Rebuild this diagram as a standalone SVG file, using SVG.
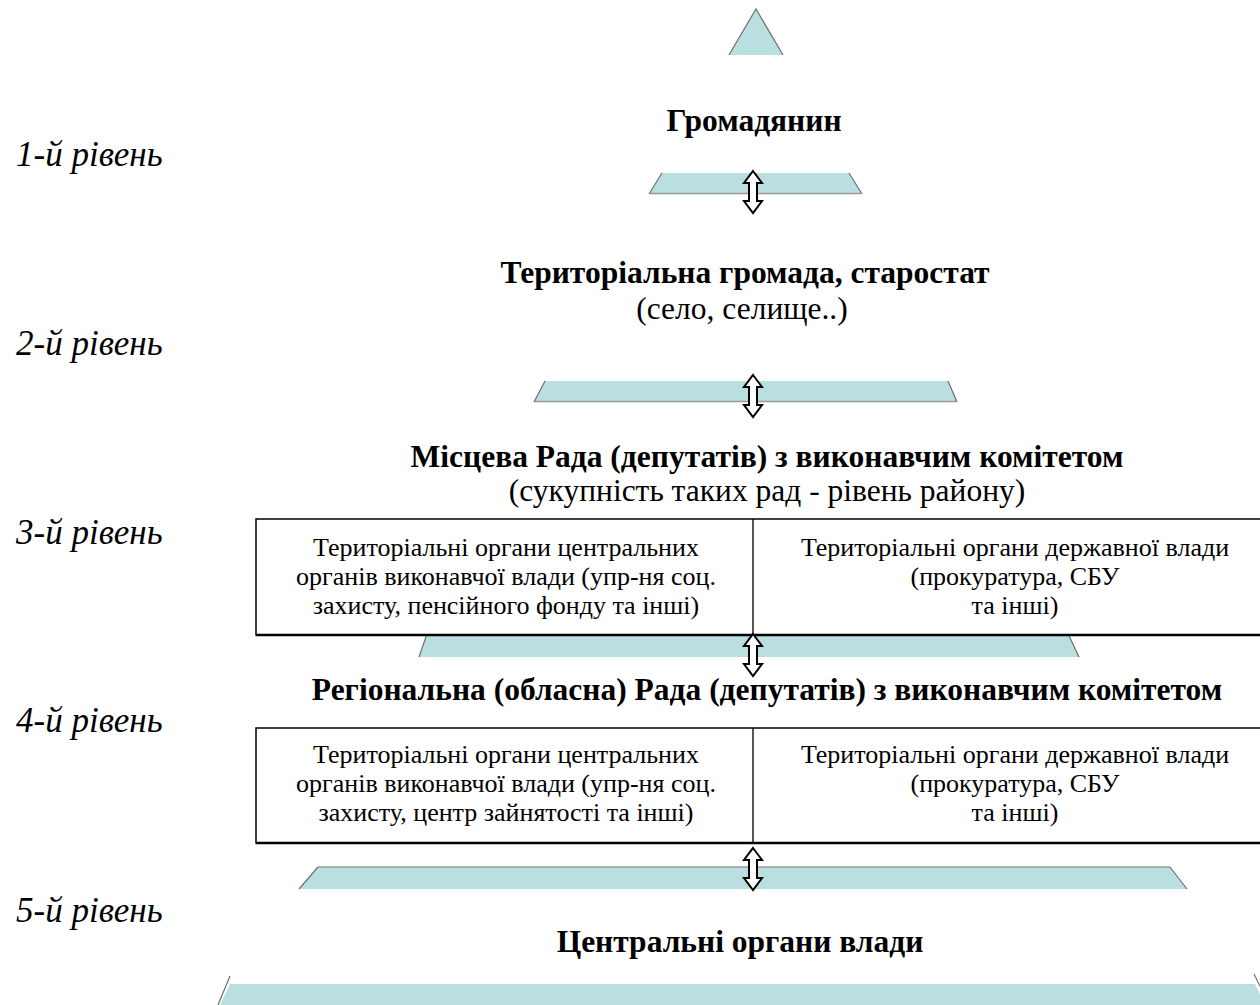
<svg xmlns="http://www.w3.org/2000/svg" width="1260" height="1005" viewBox="0 0 1260 1005">
<defs>
<style>
.band{fill:#b9dfe1;stroke:none}
.edge{fill:none;stroke:#6e6e6e;stroke-width:1.2}
.top{fill:none;stroke:#9a9a9a;stroke-width:1.5}
.lvl{font-family:"Liberation Serif","Times New Roman",serif;font-style:italic;font-size:35px;fill:#000}
.h{font-family:"Liberation Serif","Times New Roman",serif;font-weight:bold;font-size:31.5px;fill:#000;text-anchor:middle}
.n{font-family:"Liberation Serif","Times New Roman",serif;font-size:31.5px;fill:#000;text-anchor:middle}
.b{font-family:"Liberation Serif","Times New Roman",serif;font-size:26px;fill:#000;text-anchor:middle}
.box{fill:#fff;stroke:#000;stroke-width:1.5}
.boxb{stroke:#000;stroke-width:2.5}
.div{stroke:#000;stroke-width:1.3}
.arr{fill:#fff;stroke:#000;stroke-width:2;stroke-linejoin:miter}
</style>
<path id="darr" d="M0,0 L9,12 L4,12 L4,30 L9,30 L0,42 L-9,30 L-4,30 L-4,12 L-9,12 Z"/>
</defs>
<rect width="1260" height="1005" fill="#fff"/>

<g id="pyramid">
  <g id="apex">
    <polygon class="band" points="729,55 756,9 783,55"/>
    <polyline class="edge" points="729,55 756,9 783,55"/>
  </g>
  <g id="band1">
    <polygon class="band" points="662,173 849,173 862,194 649,194"/>
    <line class="top" x1="650" y1="193.5" x2="861" y2="193.5"/>
    <line class="edge" x1="662" y1="173" x2="649" y2="194"/>
    <line class="edge" x1="849" y1="173" x2="862" y2="194"/>
  </g>
  <g id="band2">
    <polygon class="band" points="545,381 948,381 957,402 534,402"/>
    <line class="top" x1="535" y1="401.5" x2="956" y2="401.5"/>
    <line class="edge" x1="545" y1="381" x2="534" y2="402"/>
    <line class="edge" x1="948" y1="381" x2="957" y2="402"/>
  </g>
  <g id="band3">
    <polygon class="band" points="430,625 1064,625 1079,657 419,657"/>
    <line class="edge" x1="430" y1="625" x2="419" y2="657"/>
    <line class="edge" x1="1064" y1="625" x2="1079" y2="657"/>
  </g>
  <g id="band4">
    <polygon class="band" points="318,867 1170,867 1187,889 299,889"/>
    <line class="top" x1="318" y1="867" x2="1170" y2="867"/>
    <line class="edge" x1="318" y1="867" x2="299" y2="889"/>
    <line class="edge" x1="1170" y1="867" x2="1187" y2="889"/>
  </g>
  <g id="band5">
    <polygon class="band" points="230,984 1255,984 1265,1005 220,1005"/>
    <line class="edge" x1="230" y1="976" x2="218" y2="1005"/>
    <line class="edge" x1="1254" y1="974" x2="1262" y2="990"/>
  </g>
</g>

<g id="levels">
  <text class="lvl" x="16" y="166">1-й рівень</text>
  <text class="lvl" x="16" y="355">2-й рівень</text>
  <text class="lvl" x="16" y="544">3-й рівень</text>
  <text class="lvl" x="16" y="732">4-й рівень</text>
  <text class="lvl" x="16" y="922">5-й рівень</text>
</g>

<g id="citizen">
  <text class="h" x="754" y="131">Громадянин</text>
</g>

<g id="community">
  <text class="h" x="745" y="283">Територіальна громада, старостат</text>
  <text class="n" x="742" y="319">(село, селище..)</text>
</g>

<g id="local-council">
  <text class="h" x="767" y="467">Місцева Рада (депутатів) з виконавчим комітетом</text>
  <text class="n" x="767" y="501">(сукупність таких рад - рівень району)</text>
</g>

<g id="district-bodies">
  <rect class="box" x="256" y="519" width="1020" height="116"/>
  <line class="boxb" x1="256" y1="635" x2="1260" y2="635"/>
  <line class="div" x1="753" y1="519" x2="753" y2="635"/>
  <text class="b" x="506" y="556">Територіальні органи центральних</text>
  <text class="b" x="506" y="585">органів виконавчої влади (упр-ня соц.</text>
  <text class="b" x="506" y="614">захисту, пенсійного фонду та інші)</text>
  <text class="b" x="1015" y="556">Територіальні органи державної влади</text>
  <text class="b" x="1015" y="585">(прокуратура, СБУ</text>
  <text class="b" x="1015" y="614">та інші)</text>
</g>

<g id="regional-council">
  <text class="h" x="767" y="700">Регіональна (обласна) Рада (депутатів) з виконавчим комітетом</text>
</g>

<g id="regional-bodies">
  <rect class="box" x="256" y="728" width="1020" height="115"/>
  <line class="boxb" x1="256" y1="843" x2="1260" y2="843"/>
  <line class="div" x1="753" y1="728" x2="753" y2="843"/>
  <text class="b" x="506" y="763">Територіальні органи центральних</text>
  <text class="b" x="506" y="792">органів виконавчої влади (упр-ня соц.</text>
  <text class="b" x="506" y="821">захисту, центр зайнятості та інші)</text>
  <text class="b" x="1015" y="763">Територіальні органи державної влади</text>
  <text class="b" x="1015" y="792">(прокуратура, СБУ</text>
  <text class="b" x="1015" y="821">та інші)</text>
</g>

<g id="central">
  <text class="h" x="740" y="952">Центральні органи влади</text>
</g>

<g id="connectors">
  <use href="#darr" class="arr" x="753" y="171"/>
  <use href="#darr" class="arr" x="753" y="375"/>
  <use href="#darr" class="arr" x="753" y="634"/>
  <use href="#darr" class="arr" x="753" y="848"/>
</g>
</svg>
